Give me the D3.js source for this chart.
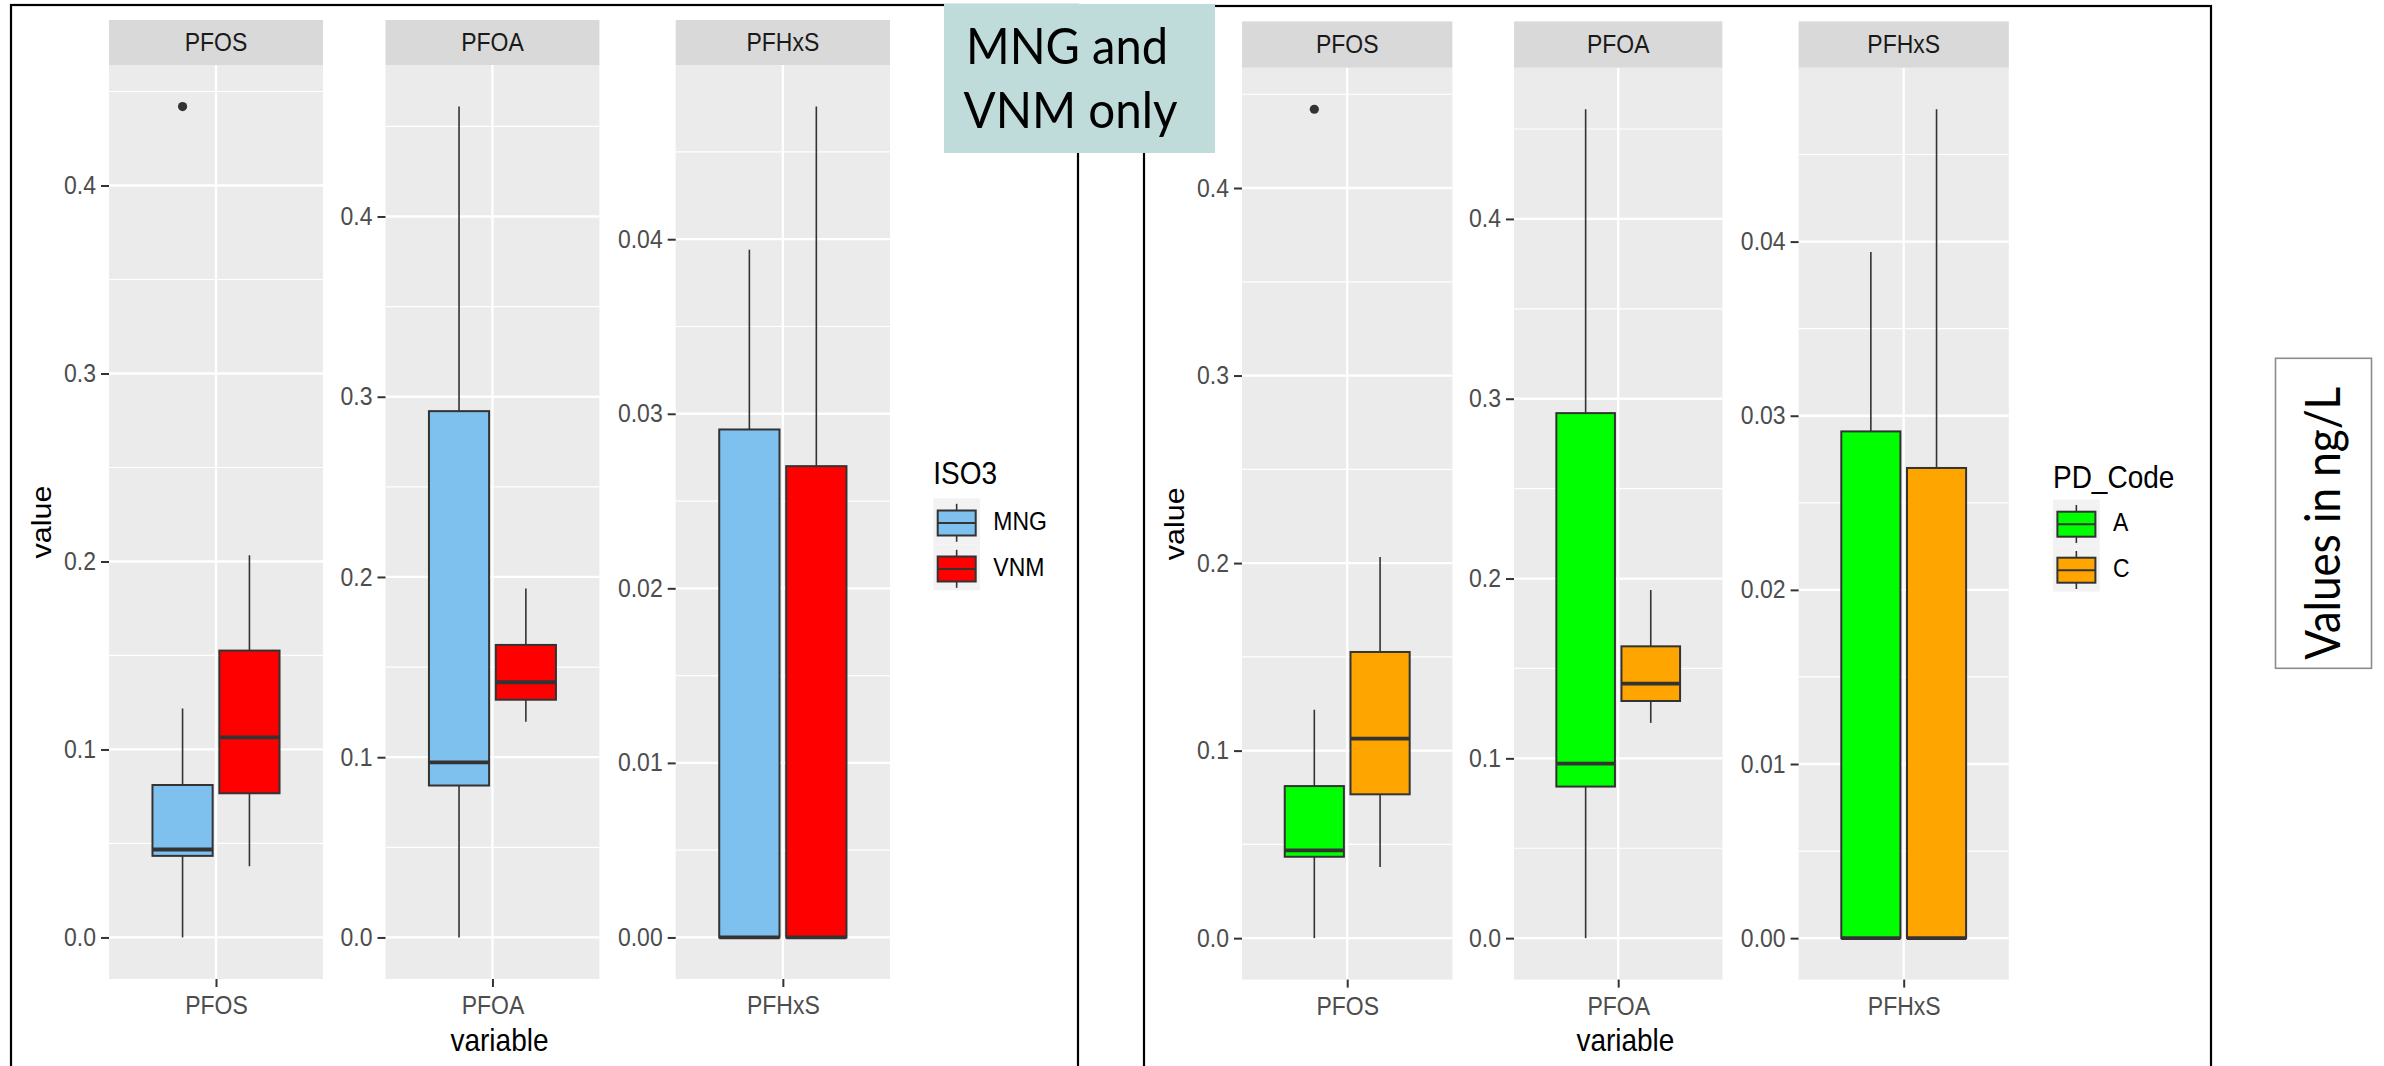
<!DOCTYPE html>
<html>
<head>
<meta charset="utf-8">
<script src="https://cdn.jsdelivr.net/npm/d3@7"></script>
<style>
  html, body { margin: 0; padding: 0; background: #ffffff; }
  svg { display: block; }
</style>
</head>
<body>
<svg id="chart" width="2384" height="1066"></svg>
<script>
// ---------------- data ----------------
const variables = ["PFOS", "PFOA", "PFHxS"];
const countryGroups = ["MNG", "VNM"];
const pdGroups = ["A", "C"];

// Box-plot statistics, one entry per variable (PFOS, PFOA, PFHxS)
// first group (MNG / A)
const lowerWhisker1 = [0.000, 0.000, 0.0000];
const firstQuartile1 = [0.0434, 0.0843, 0.0000];
const median1 = [0.0468, 0.0971, 0.0000];
const thirdQuartile1 = [0.0811, 0.2920, 0.0291];
const upperWhisker1 = [0.1218, 0.4610, 0.0394];
const outliers1 = [[0.442], [], []];
// second group (VNM / C)
const lowerWhisker2 = [0.0379, 0.1197, 0.0000];
const firstQuartile2 = [0.0767, 0.1319, 0.0000];
const median2 = [0.1064, 0.1416, 0.0000];
const thirdQuartile2 = [0.1526, 0.1623, 0.0270];
const upperWhisker2 = [0.2033, 0.1936, 0.0476];
const outliers2 = [[], [], []];

// y-axis breaks per facet
const ticksPFOS = [0, 0.1, 0.2, 0.3, 0.4];
const tickLabelsPFOS = ["0.0", "0.1", "0.2", "0.3", "0.4"];
const ticksPFOA = [0, 0.1, 0.2, 0.3, 0.4];
const tickLabelsPFOA = ["0.0", "0.1", "0.2", "0.3", "0.4"];
const ticksPFHxS = [0, 0.01, 0.02, 0.03, 0.04];
const tickLabelsPFHxS = ["0.00", "0.01", "0.02", "0.03", "0.04"];

const countryColors = ["#7EC0EE", "#FF0000"];
const pdColors = ["#00FF00", "#FFA500"];

const captionLines = ["MNG and", "VNM only"];
const unitNote = "Values in ng/L";

// ---------------- assembled tables ----------------
function buildBoxes(groupIndex) {
  const lo = groupIndex === 0 ? lowerWhisker1 : lowerWhisker2;
  const q1 = groupIndex === 0 ? firstQuartile1 : firstQuartile2;
  const md = groupIndex === 0 ? median1 : median2;
  const q3 = groupIndex === 0 ? thirdQuartile1 : thirdQuartile2;
  const hi = groupIndex === 0 ? upperWhisker1 : upperWhisker2;
  const out = groupIndex === 0 ? outliers1 : outliers2;
  return variables.map((v, i) => ({ variable: v, group: groupIndex, lo: lo[i], q1: q1[i], med: md[i], q3: q3[i], hi: hi[i], out: out[i] }));
}
const boxes = [buildBoxes(0), buildBoxes(1)];
const facetTicks = {
  PFOS: { values: ticksPFOS, labels: tickLabelsPFOS },
  PFOA: { values: ticksPFOA, labels: tickLabelsPFOA },
  PFHxS: { values: ticksPFHxS, labels: tickLabelsPFHxS }
};

// ---------------- layout ----------------
const plots = [
  {
    frame: { x: 11, y: 5, right: 1078 },
    stripTop: 20, panelTop: 65, panelBottom: 979,
    panels: [[109, 323], [385.5, 599.4], [675.7, 890]],
    yTitleX: 51, legendX: 933.3, legendTitleY: 473.5, legendKeyTop: 498.3,
    legendTitle: "ISO3", groups: countryGroups, colors: countryColors
  },
  {
    frame: { x: 1144, y: 6, right: 2211 },
    stripTop: 21.4, panelTop: 67.8, panelBottom: 979.6,
    panels: [[1242, 1452.4], [1514, 1722.4], [1798.6, 2008.8]],
    yTitleX: 1184, legendX: 2053, legendTitleY: 477, legendKeyTop: 499.5,
    legendTitle: "PD_Code", groups: pdGroups, colors: pdColors
  }
];

const svg = d3.select("#chart");
const ggFont = "'Liberation Sans', Arial, sans-serif";
const officeFont = "Lato, 'Open Sans', sans-serif";
const lineCol = "#333333";
const smallSize = 23;
const stretch = 1.09; // the plot text is slightly taller than wide

// text placed at (x, y) with a small vertical stretch about its anchor point
function ggText(sel, x, y, str, size, fill) {
  return sel.append("text")
    .attr("transform", `translate(${x},${y}) scale(1,${stretch})`)
    .attr("font-family", ggFont).attr("font-size", size).attr("fill", fill).text(str);
}

// frames of the two plot images
plots.forEach(p => {
  svg.append("rect")
    .attr("x", p.frame.x).attr("y", p.frame.y)
    .attr("width", p.frame.right - p.frame.x).attr("height", 1200)
    .attr("fill", "none").attr("stroke", "#000").attr("stroke-width", 2.2);
});

plots.forEach(p => {
  const g = svg.append("g");

  variables.forEach((v, vi) => {
    const [x0, x1] = p.panels[vi];
    const facetData = [boxes[0][vi], boxes[1][vi]];
    const allVals = facetData.flatMap(b => [b.lo, b.hi, ...b.out]);
    const vmin = d3.min(allVals), vmax = d3.max(allVals);
    const pad = (vmax - vmin) * 0.05;
    const y = d3.scaleLinear().domain([vmin - pad, vmax + pad]).range([p.panelBottom, p.panelTop]);
    const x = d3.scaleLinear().domain([0.4, 1.6]).range([x0, x1]);
    const ticks = facetTicks[v];
    const step = ticks.values[1] - ticks.values[0];

    // strip
    g.append("rect").attr("x", x0).attr("y", p.stripTop)
      .attr("width", x1 - x0).attr("height", p.panelTop - p.stripTop).attr("fill", "#D9D9D9");
    ggText(g, (x0 + x1) / 2, (p.stripTop + p.panelTop) / 2, v, smallSize, "#1A1A1A")
      .attr("text-anchor", "middle").attr("dominant-baseline", "central");

    // panel background
    g.append("rect").attr("x", x0).attr("y", p.panelTop)
      .attr("width", x1 - x0).attr("height", p.panelBottom - p.panelTop).attr("fill", "#EBEBEB");

    // minor gridlines
    const [d0, d1] = y.domain();
    const minor = d3.range(ticks.values[0] - step / 2, d1, step).filter(t => t > d0 && t < d1);
    g.selectAll(null).data(minor).enter().append("line")
      .attr("x1", x0).attr("x2", x1).attr("y1", d => y(d)).attr("y2", d => y(d))
      .attr("stroke", "#FFFFFF").attr("stroke-width", 1.2);
    // major gridlines
    g.selectAll(null).data(ticks.values).enter().append("line")
      .attr("x1", x0).attr("x2", x1).attr("y1", d => y(d)).attr("y2", d => y(d))
      .attr("stroke", "#FFFFFF").attr("stroke-width", 2.3);
    g.append("line").attr("x1", x(1)).attr("x2", x(1))
      .attr("y1", p.panelTop).attr("y2", p.panelBottom)
      .attr("stroke", "#FFFFFF").attr("stroke-width", 2.3);

    // y axis
    const yAxis = d3.axisLeft(y).tickValues(ticks.values)
      .tickFormat((d, i) => ticks.labels[i]).tickSize(8).tickPadding(5);
    const ax = g.append("g").attr("transform", `translate(${x0},0)`).call(yAxis);
    ax.select(".domain").remove();
    ax.selectAll(".tick line").attr("stroke", lineCol).attr("stroke-width", 2);
    ax.selectAll(".tick text").attr("font-family", ggFont).attr("font-size", smallSize)
      .attr("fill", "#4D4D4D").attr("transform", `scale(1,${stretch})`);

    // x axis (single category)
    const xAxis = d3.axisBottom(x).tickValues([1]).tickFormat(() => v).tickSize(8).tickPadding(8);
    const axb = g.append("g").attr("transform", `translate(0,${p.panelBottom})`).call(xAxis);
    axb.select(".domain").remove();
    axb.selectAll(".tick line").attr("stroke", lineCol).attr("stroke-width", 2);
    axb.selectAll(".tick text").attr("font-family", ggFont).attr("font-size", smallSize)
      .attr("fill", "#4D4D4D").attr("transform", `scale(1,${stretch})`);

    // boxes, dodged within the category
    const boxW = (x(1.6) - x(0.4)) / 1.2 * 0.3375;
    facetData.forEach((b, gi) => {
      const cx = x(1 + (gi === 0 ? -0.1875 : 0.1875));
      g.append("line").attr("x1", cx).attr("x2", cx).attr("y1", y(b.q3)).attr("y2", y(b.hi))
        .attr("stroke", lineCol).attr("stroke-width", 1.6);
      g.append("line").attr("x1", cx).attr("x2", cx).attr("y1", y(b.q1)).attr("y2", y(b.lo))
        .attr("stroke", lineCol).attr("stroke-width", 1.6);
      g.append("rect").attr("x", cx - boxW / 2).attr("y", y(b.q3))
        .attr("width", boxW).attr("height", Math.max(0, y(b.q1) - y(b.q3)))
        .attr("fill", p.colors[gi]).attr("stroke", lineCol).attr("stroke-width", 2);
      g.append("line").attr("x1", cx - boxW / 2).attr("x2", cx + boxW / 2)
        .attr("y1", y(b.med)).attr("y2", y(b.med))
        .attr("stroke", lineCol).attr("stroke-width", 3.8);
      g.selectAll(null).data(b.out).enter().append("circle")
        .attr("cx", cx).attr("cy", d => y(d)).attr("r", 4.6).attr("fill", lineCol);
    });
  });

  // axis titles
  ggText(g, (p.panels[0][0] + p.panels[2][1]) / 2, 1040, "variable", 28, "#000")
    .attr("text-anchor", "middle").attr("dominant-baseline", "central");
  g.append("text")
    .attr("transform", `translate(${p.yTitleX},${(p.panelTop + p.panelBottom) / 2}) rotate(-90) scale(${stretch},1)`)
    .attr("text-anchor", "middle")
    .attr("font-family", ggFont).attr("font-size", 28).attr("fill", "#000").text("value");

  // legend
  ggText(g, p.legendX, p.legendTitleY, p.legendTitle, 28, "#000")
    .attr("dominant-baseline", "central");
  const keyW = 46.7, keyH = 46;
  p.groups.forEach((name, gi) => {
    const ky = p.legendKeyTop + gi * keyH;
    const kx = p.legendX;
    g.append("rect").attr("x", kx).attr("y", ky).attr("width", keyW).attr("height", keyH).attr("fill", "#F2F2F2");
    g.append("line").attr("x1", kx + keyW / 2).attr("x2", kx + keyW / 2)
      .attr("y1", ky + 5.5).attr("y2", ky + 43.5).attr("stroke", lineCol).attr("stroke-width", 1.6);
    g.append("rect").attr("x", kx + 4.4).attr("y", ky + 12.2)
      .attr("width", 38).attr("height", 25)
      .attr("fill", p.colors[gi]).attr("stroke", lineCol).attr("stroke-width", 2);
    g.append("line").attr("x1", kx + 4.4).attr("x2", kx + 42.4)
      .attr("y1", ky + 24.8).attr("y2", ky + 24.8).attr("stroke", lineCol).attr("stroke-width", 2);
    ggText(g, kx + 60, ky + keyH / 2, name, smallSize, "#000")
      .attr("dominant-baseline", "central");
  });
});

// caption box over the top of the frames
svg.append("rect").attr("x", 944).attr("y", 4).attr("width", 271).attr("height", 149)
  .attr("fill", "#C0DCDA");
const capLayout = [{ x: 966, y: 63.5, len: 202 }, { x: 963.5, y: 127.7, len: 214 }];
captionLines.forEach((t, i) => {
  svg.append("text").attr("x", capLayout[i].x).attr("y", capLayout[i].y)
    .attr("font-family", officeFont).attr("font-size", 50).attr("fill", "#000")
    .attr("textLength", capLayout[i].len).attr("lengthAdjust", "spacingAndGlyphs").text(t);
});

// unit note box
svg.append("rect").attr("x", 2275.5).attr("y", 358.3).attr("width", 96).attr("height", 310)
  .attr("fill", "#fff").attr("stroke", "#8C8C8C").attr("stroke-width", 1.6);
svg.append("text").attr("transform", "translate(2340,523.3) rotate(-90)")
  .attr("text-anchor", "middle")
  .attr("font-family", officeFont).attr("font-size", 48).attr("fill", "#000")
  .attr("textLength", 273).attr("lengthAdjust", "spacingAndGlyphs").text(unitNote);
</script>
</body>
</html>
